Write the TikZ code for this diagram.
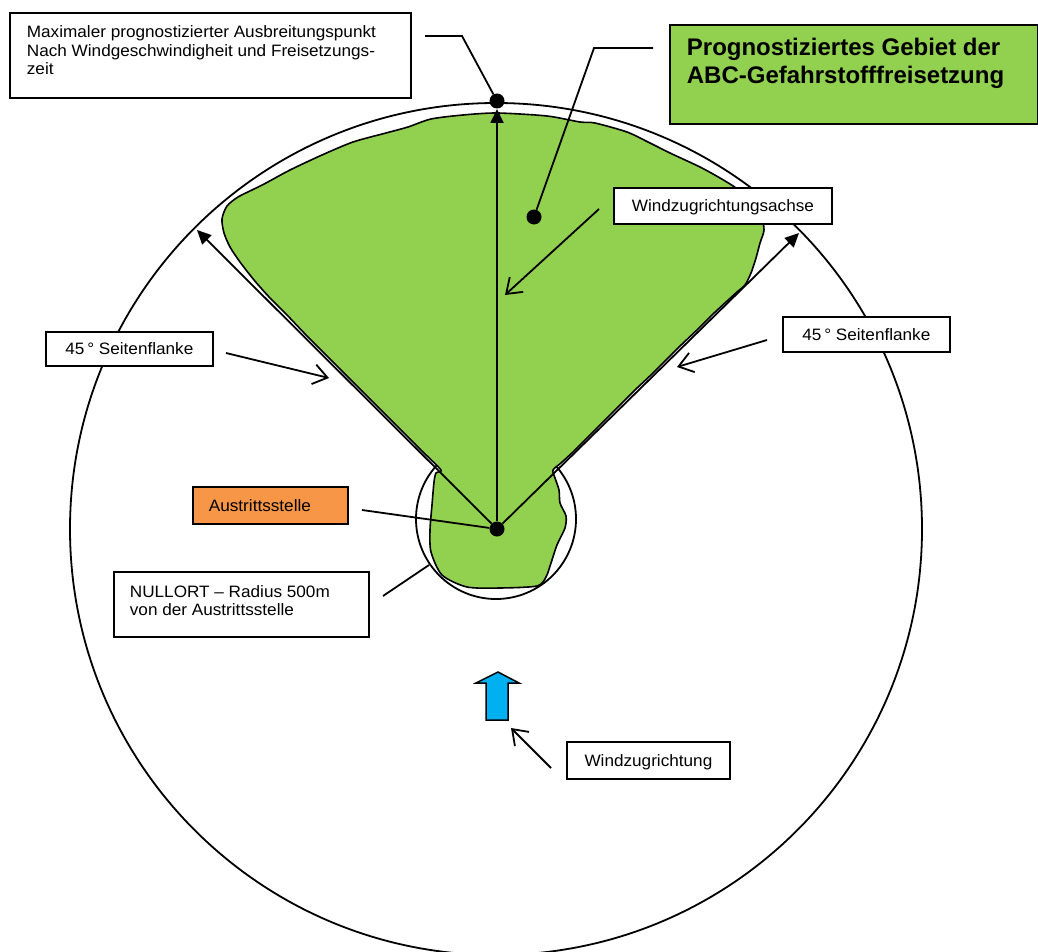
\documentclass[tikz,border=0pt]{standalone}
\usepackage{fontspec}
\setmainfont{Liberation Sans}[FakeStretch=1.04]
\newfontfamily\titlefont{Liberation Sans}
\usetikzlibrary{arrows.meta}
\definecolor{blobgreen}{HTML}{92D050}
\definecolor{exitorange}{HTML}{F79646}
\definecolor{windblue}{HTML}{00B0F0}
\tikzset{
  lbl/.style={draw, line width=1.8pt, fill=white, inner sep=0pt, anchor=north west,
    font=\fontsize{16.5}{18.5}\selectfont, text height=12pt, text depth=0pt},
  multilbl/.style={draw, line width=1.8pt, fill=white, inner ysep=0pt, anchor=north west,
    font=\fontsize{16.5}{18.5}\selectfont},
  conn/.style={line width=1.8pt},
  openarrow/.style={line width=1.8pt, -{Straight Barb[length=14pt,width=20pt]}},
  flank/.style={line width=1.8pt, -{Triangle[length=14pt,width=13pt]}},
  dot/.style={circle, fill=black, inner sep=0pt, minimum size=15pt},
  ring/.style={line width=1.8pt},
}
\begin{document}
\begin{tikzpicture}[x=1pt, y=-1pt]
\useasboundingbox (0,0) rectangle (1038,952);
% circles
\draw[ring] (496,529) circle[radius=426];
\draw[ring] (496,519) circle[radius=80];
% predicted area
\draw[line width=1.6pt, fill=blobgreen, line join=round] plot[smooth cycle, tension=0.45] coordinates {
 (431,552) (430,530) (432,505) (434,482) (436,473) (441,470)
 (423,452) (404,433) (384,413) (366,395) (348,377) (328,357) (307,336) (287,315)
 (270,298) (254,280) (240,262) (230,247) (224,233) (222,219) (227,206) (238,197)
 (252,190) (266,183)
 (290,170) (322,155) (353,142) (386,133) (408,127) (431,119) (463,115) (497,113)
 (547,116) (580,122) (595,123) (627,132) (648,142) (670,153) (700,167) (720,178)
 (736,188) (752,202) (761,215) (764,230) (760,243) (756,258) (751,273) (745,285)
 (737,292) (713,314) (699,328) (679,347) (666,360) (652,374) (635,390) (618,407)
 (605,420) (585,440) (574,451) (561,463) (553,470)
 (555,478) (559,490) (560,503) (566,516) (565,528) (557,545) (551,563) (546,577)
 (537,586) (500,588) (467,587) (442,575)
};
% points
\node[dot] (center) at (497,529) {};
\node[dot] (top) at (497,101) {};
\node[dot] (gdot) at (534,217) {};
\coordinate (ltip) at (197,230);
\coordinate (rtip) at (799,233);
\coordinate (ttip) at (497,109);
\draw[flank] (center) -- (ltip);
\draw[flank] (center) -- (rtip);
\draw[flank] (center) -- (ttip);
% wind arrow
\draw[line width=1.5pt, fill=windblue] (498,672) -- (519,683) -- (508,683) -- (508,720)
  -- (486,720) -- (486,683) -- (476,683) -- cycle;
% leader lines
\coordinate (maxA) at (425,36); \coordinate (maxB) at (462,36);
\draw[conn] (maxA) -- (maxB) -- (top);
\coordinate (titA) at (653,48); \coordinate (titB) at (594,48);
\draw[conn] (titA) -- (titB) -- (gdot);
\coordinate (achseA) at (599,209); \coordinate (achseT) at (505,295);
\draw[openarrow] (achseA) -- (achseT);
\coordinate (flLA) at (226,353); \coordinate (flLT) at (329,378);
\draw[openarrow] (flLA) -- (flLT);
\coordinate (flRA) at (767,340); \coordinate (flRT) at (677,367);
\draw[openarrow] (flRA) -- (flRT);
\coordinate (exitA) at (362,510);
\draw[conn] (exitA) -- (center);
\coordinate (nullA) at (383,596); \coordinate (nullB) at (429,565);
\draw[conn] (nullA) -- (nullB);
\coordinate (windA) at (551,768); \coordinate (windT) at (511,728);
\draw[openarrow] (windA) -- (windT);
% boxes
\node[multilbl, inner xsep=17pt, text height=62pt, text depth=23pt] (maxbox) at (9,12)
  {\parbox[b]{367pt}{Maximaler prognostizierter Ausbreitungspunkt\\Nach Windgeschwindigheit und Freisetzungs-\\zeit}};
\node[draw, line width=1.8pt, fill=blobgreen, anchor=north west, inner xsep=17pt, inner ysep=0pt,
  text height=59pt, text depth=40pt, font=\titlefont\bfseries\fontsize{24}{28}\selectfont] (title) at (669,24)
  {\parbox[b]{334pt}{Prognostiziertes Gebiet der\\ABC-Gefahrstofffreisetzung}};
\node[lbl, minimum width=218pt, minimum height=36pt] (achse) at (613,187) {Windzugrichtungsachse};
\node[lbl, minimum width=167pt, minimum height=34pt] (flankL) at (45,331) {45\,° Seitenflanke};
\node[lbl, minimum width=167pt, minimum height=35pt] (flankR) at (782,316) {45\,° Seitenflanke};
\node[lbl, fill=exitorange, inner xsep=16pt, minimum width=155pt, minimum height=37pt] (exit) at (192,486)
  {\makebox[123pt][l]{Austrittsstelle}};
\node[multilbl, inner xsep=16pt, text height=44pt, text depth=21pt] (nullort) at (113,571)
  {\parbox[b]{223pt}{NULLORT – Radius 500m\\von der Austrittsstelle}};
\node[lbl, minimum width=163pt, minimum height=37pt] (windbox) at (566,741) {Windzugrichtung};
\end{tikzpicture}
\end{document}
